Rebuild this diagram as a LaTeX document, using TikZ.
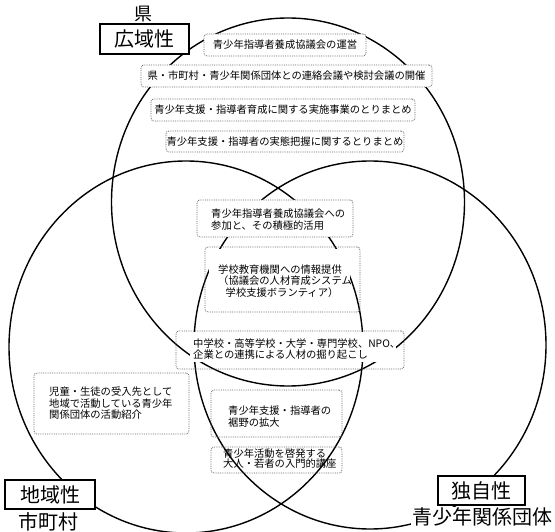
\documentclass[tikz,border=0pt]{standalone}
\usepackage{fontspec}
\setmainfont{Noto Sans CJK JP}
\begin{document}
\begin{tikzpicture}[x=1pt,y=-1pt,
  venn/.style={draw=black,line width=1.4pt},
  infobox/.style={draw=black!60,densely dotted,line width=0.8pt,rounded corners=3pt,inner sep=0pt,fill=white,font=\fontsize{10.3}{11.5}\selectfont},
  framebox/.style={infobox,fill=none},
  boxtext/.style={font=\fontsize{10.3}{11.5}\selectfont,align=left,inner sep=0pt,anchor=west},
  tagbox/.style={draw=black,line width=2.2pt,fill=white,font=\fontsize{20}{22}\selectfont,inner sep=0pt},
  tagtext/.style={fill=white,font=\fontsize{20}{22}\selectfont,inner sep=1pt}]
\fill[white] (0,0) rectangle (555,532);
\useasboundingbox (0,0) rectangle (555,532);

% three overlapping circles
\draw[venn] (288,202) ellipse [x radius=176.5pt, y radius=184pt];
\draw[venn] (186,347) ellipse [x radius=177pt, y radius=186pt];
\draw[venn] (370,345) ellipse [x radius=176pt, y radius=184pt];

% boxes in the prefecture circle
\node[infobox,minimum width=162pt,minimum height=22pt] (b1) at (285,45) {青少年指導者養成協議会の運営};
\node[infobox,minimum width=291pt,minimum height=22pt] (b2) at (286.5,76) {県・市町村・青少年関係団体との連絡会議や検討会議の開催};
\node[infobox,minimum width=264pt,minimum height=22pt] (b3) at (283,110) {青少年支援・指導者育成に関する実施事業のとりまとめ};
\node[infobox,minimum width=238pt,minimum height=21pt] (b4) at (285,141.5) {青少年支援・指導者の実態把握に関するとりまとめ};

% centre boxes
\node[infobox,minimum width=156pt,minimum height=37pt] (b5) at (275,218.5) {};
\node[boxtext] (t5) at (211,219.5) {青少年指導者養成協議会への\\参加と、その積極的活用};

\node[framebox,minimum width=155pt,minimum height=65pt] (b6) at (282.5,279.5) {};
\fill[white] (209,249) rectangle (350,300);
\node[boxtext] (t6) at (218,281) {学校教育機関への情報提供\\（協議会の人材育成システム\\\hspace*{7.5pt}学校支援ボランティア）};

\node[framebox,minimum width=228pt,minimum height=38pt] (b7) at (290,350) {};
\fill[white] (190,332) rectangle (396,362);
\node[boxtext] (t7) at (193,349) {中学校・高等学校・大学・専門学校、NPO、\\企業との連携による人材の掘り起こし};

\node[infobox,minimum width=155pt,minimum height=61pt] (b8) at (111.5,403.5) {};
\node[boxtext] (t8) at (49,403.5) {児童・生徒の受入先として\\地域で活動している青少年\\関係団体の活動紹介};

\node[framebox,minimum width=131pt,minimum height=47pt] (b9) at (276.5,413.5) {};
\node[boxtext,fill=white,inner sep=1pt] (t9) at (227,416.5) {青少年支援・指導者の\\裾野の拡大};

\node[framebox,minimum width=131pt,minimum height=26pt] (b10) at (276.5,460) {};
\node[boxtext,font=\fontsize{10.3}{10}\selectfont] (t10) at (223,459) {青少年活動を啓発する\\大人・若者の入門的講座};

% labels
\node[font=\fontsize{18}{20}\selectfont,inner sep=0pt] (ken) at (143,14) {県};
\node[tagbox,minimum width=89pt,minimum height=30pt] (kouiki) at (144.5,39) {広域性};
\node[tagbox,minimum width=90pt,minimum height=29pt] (chiiki) at (50,494.5) {地域性};
\node[tagtext] (shi) at (48.5,521.5) {市町村};
\node[tagbox,minimum width=87pt,minimum height=29pt] (dokuji) at (481.5,490.5) {独自性};
\node[tagtext] (dantai) at (482,517) {青少年関係団体};
\end{tikzpicture}
\end{document}
